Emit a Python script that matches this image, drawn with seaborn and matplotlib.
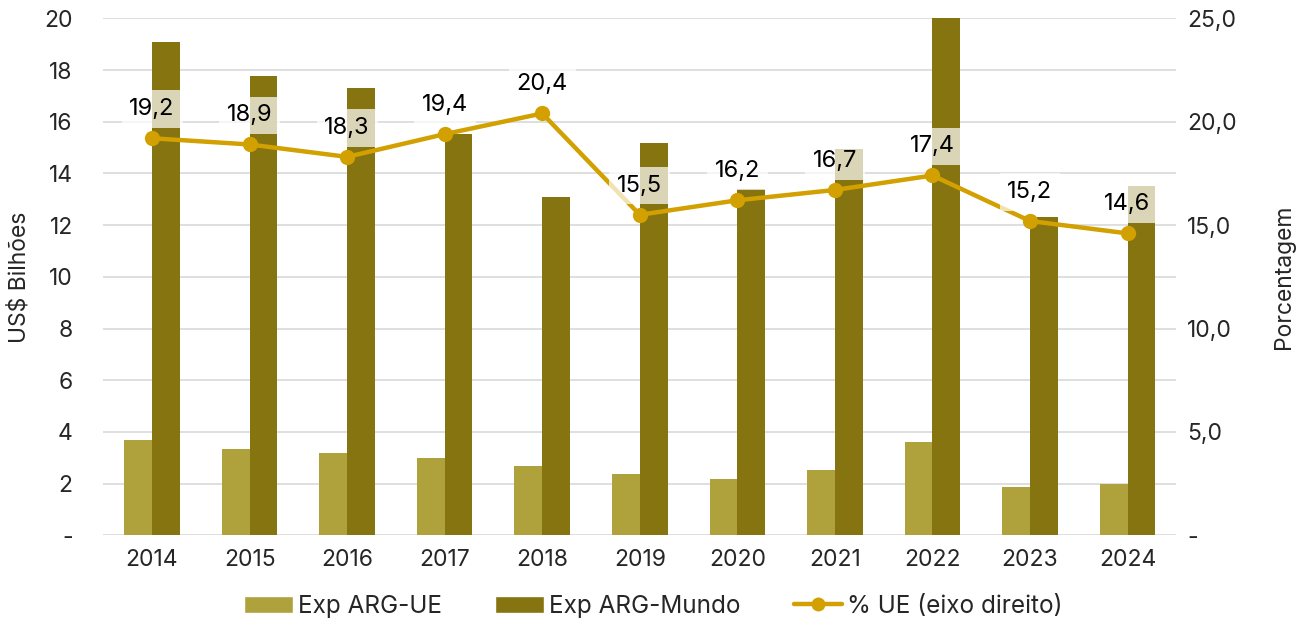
import pandas as pd
import seaborn as sns
import matplotlib.pyplot as plt
from matplotlib.lines import Line2D
from matplotlib.patches import Patch

# dados
anos = ["2014", "2015", "2016", "2017", "2018", "2019", "2020", "2021", "2022", "2023", "2024"]
exp_ue = [3.67, 3.35, 3.17, 2.98, 2.67, 2.36, 2.17, 2.51, 3.6, 1.86, 1.97]
exp_mundo = [19.07, 17.76, 17.29, 15.51, 13.08, 15.19, 13.41, 14.93, 20.7, 12.31, 13.5]
pct_ue = [19.2, 18.9, 18.3, 19.4, 20.4, 15.5, 16.2, 16.7, 17.4, 15.2, 14.6]

c_ue = "#AFA23C"
c_mundo = "#85740F"
c_linha = "#D2A000"

sns.set_theme(style="white")
plt.rcParams["font.family"] = ["Inter", "DejaVu Sans"]
plt.rcParams["font.size"] = 16

df = pd.DataFrame({
    "ano": anos * 2,
    "valor": exp_ue + exp_mundo,
    "serie": ["Exp ARG-UE"] * len(anos) + ["Exp ARG-Mundo"] * len(anos),
})
dl = pd.DataFrame({"pos": range(len(anos)), "pct": pct_ue})

fig, ax = plt.subplots(figsize=(13.07, 6.32), dpi=100)
fig.subplots_adjust(left=0.079, right=0.9, top=0.971, bottom=0.153)

sns.barplot(data=df, x="ano", y="valor", hue="serie", order=anos,
            palette=[c_ue, c_mundo], saturation=1, width=0.57, gap=0,
            linewidth=0, legend=False, ax=ax, zorder=2)
ax.set_ylim(0, 20)
ax.set_xlim(-0.5, len(anos) - 0.5)
ax.set_yticks(range(0, 21, 2))
ax.set_yticklabels(["-"] + [str(v) for v in range(2, 21, 2)], fontsize=16.5)
ax.yaxis.grid(True, color="#D9D9D9", linewidth=1.2, zorder=0)
ax.set_axisbelow(True)
ax.set_xlabel("")
ax.set_ylabel("US$ Bilhões", fontsize=16.5, labelpad=10)
ax.tick_params(axis="x", labelsize=16.5, pad=10, length=0)
ax.tick_params(axis="y", length=0, pad=22)
for s in ax.spines.values():
    s.set_visible(False)

ax2 = ax.twinx()
sns.lineplot(data=dl, x="pos", y="pct", color=c_linha, linewidth=3.2,
             marker="o", markersize=11, markeredgewidth=0, ax=ax2, zorder=3)
ax2.set_ylim(0, 25)
ax2.set_yticks(range(0, 26, 5))
ax2.set_yticklabels(["-"] + [f"{v},0" for v in range(5, 26, 5)], fontsize=16.5)
ax2.tick_params(axis="y", length=0, pad=8)
ax2.set_ylabel("Porcentagem", fontsize=16.5, labelpad=26)
ax2.set_xlabel("")
for s in ax2.spines.values():
    s.set_visible(False)

for i, v in enumerate(pct_ue):
    ax2.annotate(f"{v:.1f}".replace(".", ","), (i, v), xytext=(0, 21),
                 textcoords="offset points", ha="center", va="center",
                 fontsize=17, color="black", zorder=5,
                 bbox=dict(boxstyle="square,pad=0.33", facecolor="white",
                           edgecolor="none", alpha=0.7))

handles = [
    Patch(facecolor=c_ue, label="Exp ARG-UE"),
    Patch(facecolor=c_mundo, label="Exp ARG-Mundo"),
    Line2D([0], [0], color=c_linha, linewidth=3.2, marker="o", markersize=9,
           label="% UE (eixo direito)"),
]
fig.legend(handles=handles, loc="lower center", ncol=3, frameon=False,
           fontsize=17.5, bbox_to_anchor=(0.5, -0.012), handlelength=2.0,
           handletextpad=0.2, columnspacing=2.2)

fig.savefig("out.png", dpi=100)
